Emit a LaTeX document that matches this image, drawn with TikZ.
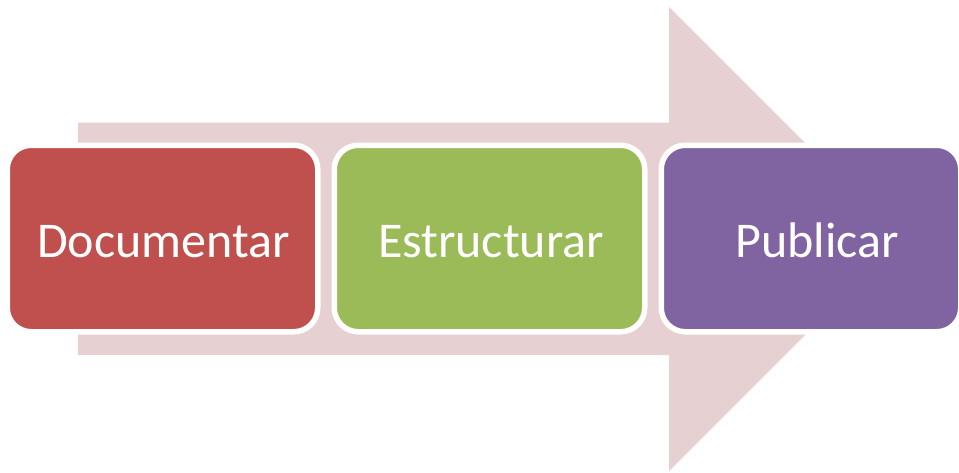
\documentclass[tikz,border=0pt]{standalone}
\usepackage{fontspec}
\setmainfont{Carlito}
\definecolor{arrowpink}{RGB}{231,208,209}
\definecolor{boxred}{RGB}{192,80,77}
\definecolor{boxgreen}{RGB}{155,187,89}
\definecolor{boxpurple}{RGB}{128,100,162}
\tikzset{
  stepbox/.style={draw=white, line width=5.5pt, rounded corners=24pt, inner sep=0pt, outer sep=0pt,
    minimum height=186.5pt, anchor=north west},
  lbl/.style={text=white, inner sep=0pt, anchor=base, font=\fontsize{50}{60}\selectfont}
}
\begin{document}
\begin{tikzpicture}[x=1pt,y=-1pt]
\useasboundingbox (0,0) rectangle (959,472);
\fill[arrowpink] (78,122.7) -- (669,122.7) -- (669,7) -- (901,239) -- (669,471) -- (669,355) -- (78,355) -- cycle;
\node[stepbox, fill=boxred, minimum width=310.5pt] (r) at (7.25,145.25) {};
\node[stepbox, fill=boxgreen, minimum width=310.5pt] (g) at (334.25,145.25) {};
\node[stepbox, fill=boxpurple, minimum width=299.5pt] (p) at (661.25,145.25) {};
\node[lbl] (t1) at (163.5,257) {Documentar};
\node[lbl] (t2) at (491,257) {Estructurar};
\node[lbl] (t3) at (817,257) {Publicar};
\end{tikzpicture}
\end{document}
